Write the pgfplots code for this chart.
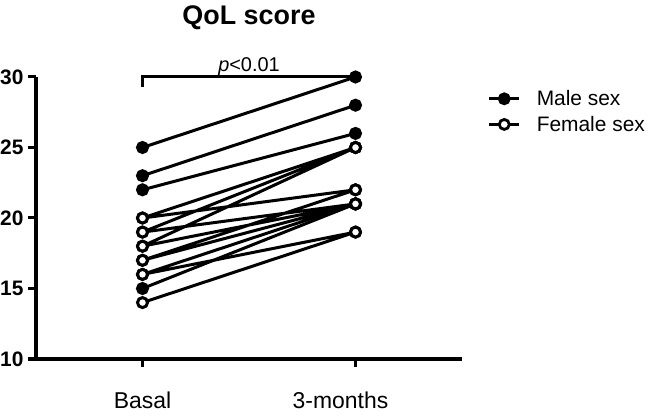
\documentclass[border=0pt]{standalone}
\usepackage{fontspec}
\setmainfont{Liberation Sans}
\usepackage{pgfplots}
\usepackage{pgfplotstable}
\pgfplotsset{compat=1.18}

% each subject: basal (x=0) and 3-months (x=1), nan rows break the lines
\pgfplotstableread{
x y
0 25
1 30
nan nan
0 23
1 28
nan nan
0 22
1 26
nan nan
0 15
1 21
}\male

\pgfplotstableread{
x y
0 20
1 25
nan nan
0 19
1 25
nan nan
0 18
1 25
nan nan
0 20
1 22
nan nan
0 19
1 21
nan nan
0 17
1 22
nan nan
0 18
1 21
nan nan
0 17
1 21
nan nan
0 16
1 21
nan nan
0 16
1 19
nan nan
0 14
1 19
}\female

\begin{document}
\begin{tikzpicture}
\path[use as bounding box] (-36bp,-60bp) rectangle (623bp,359bp);
\begin{axis}[
  at={(0,0)}, anchor=south west,
  scale only axis, width=426bp, height=282bp,
  xmin=-0.5, xmax=1.5, ymin=10, ymax=30,
  axis x line*=bottom, axis y line*=left,
  axis line style={line width=3bp, -},
  xtick={0,1}, xticklabels={Basal,{\hspace*{-30bp}3-months}},
  ytick={10,15,20,25,30},
  tick align=outside, major tick length=8bp,
  tick style={line width=3bp, black},
  /pgf/number format/assume math mode=true,
  yticklabel style={font=\bfseries\fontsize{21}{21}\selectfont, xshift=-1bp},
  xticklabel style={font=\fontsize{23}{23}\selectfont, yshift=-21bp},
  title={\bfseries QoL score},
  title style={font=\fontsize{27}{27}\selectfont, at={(0.5,1)}, anchor=base, yshift=47bp},
  clip=false,
  legend style={at={(rel axis cs:1.06,0.96)}, anchor=north west, draw=none,
    font=\fontsize{21}{21}\selectfont, row sep=5bp, inner sep=0bp,
    /tikz/every odd column/.append style={column sep=14bp}},
  legend cell align=left,
  legend image code/.code={\draw[mark repeat=2, mark phase=2, #1]
    plot coordinates {(0bp,0bp) (15bp,0bp) (30bp,0bp)};},
]
\addplot[black, line width=3bp, no markers, unbounded coords=jump, forget plot] table {\male};
\addplot[black, line width=3bp, no markers, unbounded coords=jump, forget plot] table {\female};
\addplot[only marks, mark=*, mark size=5bp,
  mark options={draw=black, fill=black, line width=3bp}, forget plot] table {\male};
\addplot[only marks, mark=*, mark size=5bp,
  mark options={draw=black, fill=white, line width=3bp}, forget plot] table {\female};

\addlegendimage{black, line width=3bp, mark=*, mark size=5bp,
  mark options={draw=black, fill=black, line width=2.8bp}}
\addlegendentry{Male sex}
\addlegendimage{black, line width=3bp, mark=*, mark size=5bp,
  mark options={draw=black, fill=white, line width=2.8bp}}
\addlegendentry{Female sex}

\draw[line width=3bp] (axis cs:0,29.3) -- (axis cs:0,30) -- (axis cs:1,30);
\node[anchor=base, font=\fontsize{20}{20}\selectfont] at ([yshift=5bp]axis cs:0.5,30) {\textit{p}<0.01};
\end{axis}
\end{tikzpicture}
\end{document}
